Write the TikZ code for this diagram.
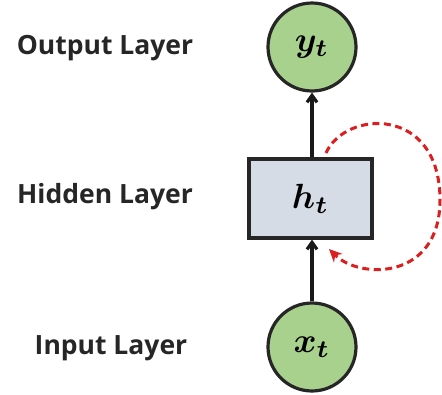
\documentclass[tikz,border=0pt]{standalone}
\usepackage{fontspec}
\setmainfont{Open Sans}
\usepackage{amsmath,amsbsy,graphicx}
\usetikzlibrary{arrows.meta}
\definecolor{nodegreen}{HTML}{A9D18E}
\definecolor{boxblue}{HTML}{D6DCE5}
\definecolor{loopred}{HTML}{DC1E1E}
\newcommand{\bigmath}[1]{\scalebox{3.5}{$\boldsymbol{#1}$}}
\tikzset{
  layer/.style={font=\fontsize{26.5}{28}\selectfont\bfseries, text=black!85},
  unit/.style={circle, draw=black!85, line width=3.2pt, fill=nodegreen, minimum size=88pt, inner sep=0pt},
  hbox/.style={rectangle, draw=black!85, line width=3.2pt, fill=boxblue, minimum width=123pt, minimum height=79pt, inner sep=0pt},
  conn/.style={line width=3.2pt, draw=black!90, -{Straight Barb[length=7pt,width=10pt]}},
  loop/.style={line width=3pt, draw=loopred, dash pattern=on 7pt off 4.5pt, -{Stealth[length=13pt,width=12pt]}}
}
\begin{document}
\begin{tikzpicture}[x=1pt,y=-1pt]
\useasboundingbox (0,0) rectangle (442,394);
\node[unit] (y) at (312,47) {\bigmath{y_t}};
\node[hbox] (h) at (310.5,198.5) {\bigmath{h_t}};
\node[unit] (x) at (312,347) {\bigmath{x_t}};
\node[layer] (lo) at (105,48) {Output Layer};
\node[layer] (lh) at (105,197) {Hidden Layer};
\node[layer] (li) at (111,348) {Input Layer};
\draw[conn] (x.north) -- (x.north |- h.south);
\draw[conn] (y.south |- h.north) -- (y.south);
\coordinate (ls) at (326,153);
\coordinate (le) at (329,249);
\draw[loop] (ls) .. controls (345,110) and (440,105) .. (440,200) .. controls (440,280) and (360,280) .. (le);
\end{tikzpicture}
\end{document}
